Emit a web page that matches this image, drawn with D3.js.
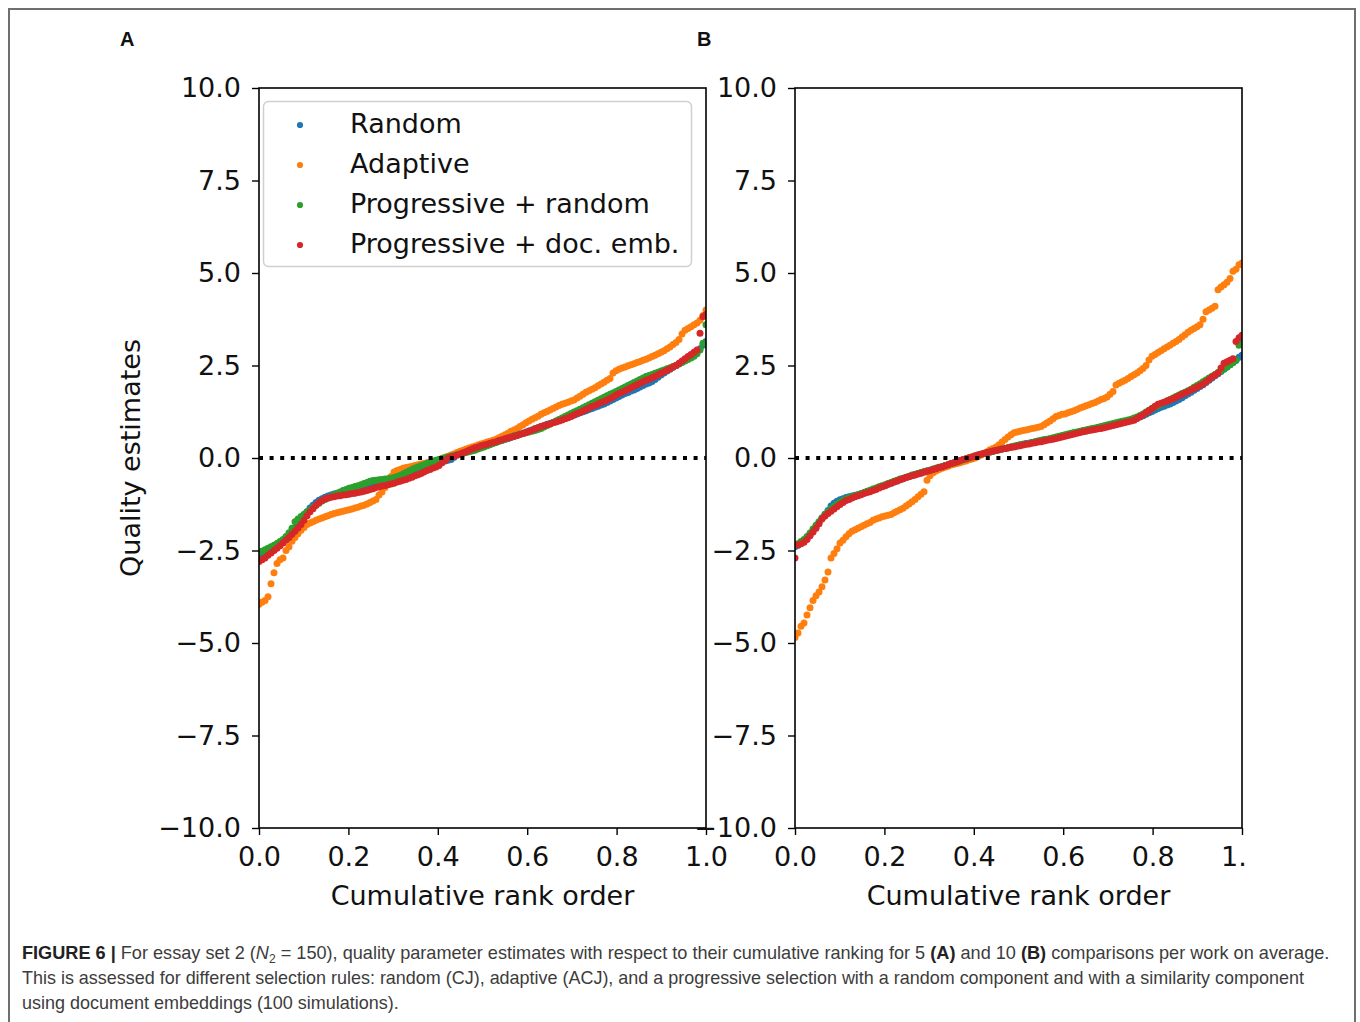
<!DOCTYPE html>
<html>
<head>
<meta charset="utf-8">
<script src="https://cdn.jsdelivr.net/npm/d3@7"></script>
<style>
  body { margin: 0; background: #fff; }
  svg { display: block; }
</style>
</head>
<body>
<svg id="fig" width="1360" height="1022"></svg>
<script>
// Quality estimates (150 essays) ordered by cumulative rank, per selection rule.
// Panel A: 5 comparisons per work on average.
const randomA = [
  -2.65, -2.62, -2.57, -2.52, -2.47, -2.42, -2.36, -2.30, -2.24, -2.17,
  -2.10, -2.00, -1.90, -1.78, -1.65, -1.55, -1.45, -1.35, -1.28, -1.20,
  -1.14, -1.10, -1.06, -1.03, -1.00, -0.97, -0.95, -0.93, -0.91, -0.90,
  -0.88, -0.86, -0.84, -0.82, -0.80, -0.77, -0.75, -0.72, -0.70, -0.68,
  -0.67, -0.65, -0.63, -0.61, -0.58, -0.55, -0.52, -0.49, -0.46, -0.43,
  -0.40, -0.37, -0.34, -0.30, -0.26, -0.22, -0.19, -0.17, -0.15, -0.13,
  -0.12, -0.10, -0.08, -0.06, -0.04, 0.02, 0.08, 0.12, 0.16, 0.19,
  0.21, 0.23, 0.26, 0.28, 0.31, 0.33, 0.36, 0.38, 0.41, 0.43,
  0.46, 0.48, 0.51, 0.53, 0.56, 0.58, 0.61, 0.64, 0.67, 0.70,
  0.73, 0.76, 0.79, 0.82, 0.85, 0.88, 0.91, 0.93, 0.96, 0.99,
  1.02, 1.05, 1.07, 1.10, 1.13, 1.16, 1.19, 1.22, 1.25, 1.28,
  1.31, 1.34, 1.37, 1.40, 1.43, 1.46, 1.50, 1.54, 1.58, 1.62,
  1.66, 1.70, 1.74, 1.77, 1.81, 1.84, 1.88, 1.92, 1.96, 2.00,
  2.03, 2.07, 2.12, 2.18, 2.24, 2.30, 2.35, 2.40, 2.45, 2.50,
  2.55, 2.60, 2.65, 2.70, 2.76, 2.82, 2.88, 2.95, 3.05, 3.15
];
const adaptiveA = [
  -3.95, -3.90, -3.85, -3.75, -3.40, -3.10, -2.85, -2.75, -2.70, -2.50,
  -2.40, -2.25, -2.15, -2.05, -1.95, -1.88, -1.80, -1.76, -1.72, -1.68,
  -1.65, -1.62, -1.59, -1.56, -1.53, -1.50, -1.48, -1.46, -1.44, -1.42,
  -1.40, -1.38, -1.35, -1.33, -1.30, -1.28, -1.24, -1.20, -1.16, -1.12,
  -1.00, -0.92, -0.80, -0.65, -0.50, -0.38, -0.34, -0.31, -0.28, -0.26,
  -0.24, -0.22, -0.20, -0.18, -0.16, -0.15, -0.13, -0.11, -0.09, -0.07,
  -0.04, -0.01, 0.02, 0.05, 0.08, 0.11, 0.15, 0.18, 0.21, 0.24,
  0.27, 0.30, 0.32, 0.35, 0.38, 0.40, 0.43, 0.45, 0.48, 0.51,
  0.55, 0.59, 0.63, 0.67, 0.72, 0.76, 0.80, 0.85, 0.90, 0.95,
  1.00, 1.05, 1.09, 1.13, 1.18, 1.22, 1.26, 1.30, 1.34, 1.38,
  1.42, 1.45, 1.48, 1.51, 1.54, 1.57, 1.62, 1.67, 1.72, 1.78,
  1.82, 1.86, 1.90, 1.95, 2.00, 2.05, 2.10, 2.15, 2.30, 2.36,
  2.40, 2.43, 2.46, 2.49, 2.52, 2.55, 2.58, 2.61, 2.64, 2.67,
  2.70, 2.74, 2.78, 2.82, 2.86, 2.90, 2.95, 3.00, 3.07, 3.12,
  3.20, 3.35, 3.45, 3.50, 3.55, 3.60, 3.65, 3.72, 3.85, 4.00
];
const progRandomA = [
  -2.55, -2.52, -2.48, -2.44, -2.40, -2.36, -2.31, -2.26, -2.20, -2.12,
  -2.02, -1.90, -1.72, -1.65, -1.58, -1.52, -1.46, -1.40, -1.34, -1.28,
  -1.22, -1.16, -1.12, -1.08, -1.04, -1.00, -0.96, -0.92, -0.88, -0.85,
  -0.82, -0.80, -0.77, -0.75, -0.72, -0.69, -0.66, -0.63, -0.61, -0.60,
  -0.59, -0.58, -0.57, -0.56, -0.55, -0.53, -0.50, -0.47, -0.43, -0.39,
  -0.35, -0.31, -0.27, -0.24, -0.21, -0.18, -0.15, -0.12, -0.09, -0.06,
  -0.04, -0.02, 0.01, 0.03, 0.05, 0.07, 0.09, 0.11, 0.13, 0.15,
  0.17, 0.19, 0.21, 0.24, 0.27, 0.30, 0.33, 0.36, 0.39, 0.42,
  0.45, 0.48, 0.51, 0.54, 0.57, 0.60, 0.62, 0.64, 0.66, 0.68,
  0.70, 0.72, 0.74, 0.77, 0.80, 0.84, 0.88, 0.92, 0.96, 1.00,
  1.04, 1.08, 1.12, 1.16, 1.20, 1.24, 1.28, 1.32, 1.36, 1.40,
  1.44, 1.48, 1.52, 1.56, 1.60, 1.64, 1.68, 1.72, 1.76, 1.80,
  1.84, 1.88, 1.92, 1.96, 2.00, 2.04, 2.08, 2.12, 2.16, 2.20,
  2.23, 2.26, 2.29, 2.32, 2.35, 2.38, 2.41, 2.44, 2.47, 2.50,
  2.54, 2.58, 2.62, 2.66, 2.70, 2.75, 2.82, 2.92, 3.10, 3.60
];
const progDocA = [
  -2.80, -2.75, -2.70, -2.63, -2.57, -2.50, -2.44, -2.37, -2.30, -2.22,
  -2.15, -2.06, -1.98, -1.89, -1.80, -1.68, -1.56, -1.45, -1.37, -1.28,
  -1.20, -1.15, -1.10, -1.08, -1.06, -1.05, -1.03, -1.02, -1.00, -0.99,
  -0.98, -0.96, -0.95, -0.93, -0.92, -0.90, -0.88, -0.85, -0.83, -0.80,
  -0.78, -0.76, -0.74, -0.72, -0.70, -0.68, -0.65, -0.63, -0.60, -0.58,
  -0.55, -0.52, -0.48, -0.45, -0.42, -0.38, -0.34, -0.31, -0.27, -0.24,
  -0.20, -0.13, -0.07, 0.00, 0.03, 0.05, 0.08, 0.10, 0.14, 0.17,
  0.21, 0.24, 0.28, 0.30, 0.33, 0.35, 0.37, 0.40, 0.42, 0.44,
  0.47, 0.49, 0.52, 0.54, 0.56, 0.59, 0.61, 0.64, 0.66, 0.69,
  0.72, 0.75, 0.79, 0.82, 0.85, 0.87, 0.90, 0.92, 0.95, 0.97,
  1.00, 1.03, 1.06, 1.09, 1.12, 1.16, 1.20, 1.23, 1.27, 1.31,
  1.35, 1.39, 1.42, 1.46, 1.50, 1.53, 1.57, 1.61, 1.65, 1.70,
  1.74, 1.78, 1.82, 1.86, 1.90, 1.94, 1.98, 2.02, 2.06, 2.10,
  2.13, 2.17, 2.21, 2.25, 2.29, 2.33, 2.37, 2.41, 2.46, 2.50,
  2.56, 2.62, 2.68, 2.74, 2.80, 2.86, 2.92, 3.37, 3.82, 3.88
];

// Panel B: 10 comparisons per work on average.
const randomB = [
  -2.40, -2.36, -2.30, -2.25, -2.18, -2.08, -1.98, -1.86, -1.74, -1.62,
  -1.52, -1.42, -1.30, -1.22, -1.17, -1.13, -1.10, -1.07, -1.05, -1.03,
  -1.01, -0.99, -0.97, -0.94, -0.92, -0.89, -0.86, -0.83, -0.80, -0.77,
  -0.74, -0.71, -0.68, -0.65, -0.62, -0.59, -0.56, -0.53, -0.50, -0.47,
  -0.45, -0.42, -0.40, -0.38, -0.35, -0.33, -0.31, -0.28, -0.26, -0.24,
  -0.21, -0.19, -0.16, -0.14, -0.11, -0.08, -0.06, -0.03, 0.00, 0.02,
  0.05, 0.07, 0.10, 0.12, 0.14, 0.16, 0.18, 0.20, 0.22, 0.24,
  0.26, 0.28, 0.30, 0.32, 0.34, 0.36, 0.37, 0.39, 0.40, 0.42,
  0.43, 0.45, 0.46, 0.48, 0.49, 0.51, 0.53, 0.55, 0.57, 0.59,
  0.61, 0.63, 0.65, 0.67, 0.69, 0.71, 0.73, 0.75, 0.77, 0.78,
  0.80, 0.81, 0.83, 0.85, 0.87, 0.89, 0.91, 0.93, 0.95, 0.97,
  0.99, 1.01, 1.03, 1.05, 1.08, 1.11, 1.14, 1.18, 1.22, 1.26,
  1.30, 1.34, 1.37, 1.40, 1.43, 1.46, 1.50, 1.54, 1.58, 1.63,
  1.68, 1.73, 1.78, 1.83, 1.88, 1.93, 1.98, 2.04, 2.10, 2.16,
  2.22, 2.28, 2.34, 2.40, 2.46, 2.52, 2.58, 2.64, 2.72, 2.78
];
const adaptiveB = [
  -4.85, -4.73, -4.55, -4.46, -4.24, -4.05, -3.85, -3.72, -3.62, -3.48,
  -3.30, -3.08, -2.70, -2.58, -2.45, -2.30, -2.22, -2.13, -2.05, -1.98,
  -1.94, -1.90, -1.86, -1.82, -1.78, -1.74, -1.68, -1.65, -1.62, -1.59,
  -1.57, -1.55, -1.53, -1.48, -1.44, -1.40, -1.36, -1.30, -1.24, -1.18,
  -1.12, -1.05, -0.98, -0.91, -0.60, -0.48, -0.40, -0.35, -0.31, -0.28,
  -0.25, -0.22, -0.19, -0.17, -0.15, -0.13, -0.10, -0.08, -0.05, -0.03,
  0.00, 0.04, 0.08, 0.12, 0.17, 0.22, 0.26, 0.30, 0.36, 0.43,
  0.50, 0.57, 0.63, 0.68, 0.70, 0.72, 0.74, 0.76, 0.78, 0.80,
  0.81, 0.83, 0.85, 0.90, 0.95, 1.00, 1.06, 1.12, 1.15, 1.18,
  1.19, 1.22, 1.25, 1.28, 1.31, 1.35, 1.38, 1.41, 1.44, 1.47,
  1.50, 1.54, 1.58, 1.61, 1.65, 1.72, 1.80, 1.97, 2.02, 2.06,
  2.10, 2.15, 2.20, 2.25, 2.30, 2.36, 2.42, 2.50, 2.65, 2.75,
  2.80, 2.85, 2.90, 2.95, 3.00, 3.05, 3.10, 3.15, 3.20, 3.27,
  3.33, 3.40, 3.45, 3.50, 3.55, 3.60, 3.75, 3.95, 4.00, 4.05,
  4.10, 4.55, 4.62, 4.68, 4.75, 4.85, 5.05, 5.10, 5.22, 5.27
];
const progRandomB = [
  -2.35, -2.32, -2.26, -2.20, -2.12, -2.03, -1.92, -1.82, -1.72, -1.62,
  -1.53, -1.45, -1.38, -1.31, -1.25, -1.20, -1.15, -1.11, -1.08, -1.05,
  -1.02, -0.99, -0.96, -0.93, -0.90, -0.87, -0.84, -0.81, -0.78, -0.75,
  -0.72, -0.69, -0.66, -0.63, -0.60, -0.57, -0.55, -0.52, -0.49, -0.46,
  -0.44, -0.42, -0.39, -0.37, -0.35, -0.33, -0.30, -0.28, -0.25, -0.23,
  -0.20, -0.18, -0.15, -0.13, -0.10, -0.08, -0.05, -0.03, 0.00, 0.03,
  0.05, 0.08, 0.10, 0.12, 0.14, 0.16, 0.18, 0.20, 0.22, 0.24,
  0.26, 0.28, 0.30, 0.32, 0.33, 0.35, 0.37, 0.38, 0.40, 0.42,
  0.44, 0.46, 0.48, 0.50, 0.51, 0.53, 0.55, 0.57, 0.59, 0.61,
  0.63, 0.65, 0.67, 0.69, 0.70, 0.72, 0.74, 0.76, 0.78, 0.80,
  0.81, 0.83, 0.85, 0.87, 0.89, 0.91, 0.93, 0.95, 0.97, 0.99,
  1.01, 1.03, 1.05, 1.08, 1.11, 1.15, 1.19, 1.24, 1.29, 1.34,
  1.38, 1.42, 1.46, 1.50, 1.54, 1.58, 1.62, 1.66, 1.70, 1.74,
  1.78, 1.82, 1.86, 1.91, 1.96, 2.01, 2.06, 2.11, 2.16, 2.21,
  2.26, 2.31, 2.36, 2.41, 2.46, 2.52, 2.58, 2.64, 3.05, 3.20
];
const progDocB = [
  -2.70, -2.35, -2.32, -2.28, -2.20, -2.10, -2.00, -1.90, -1.78, -1.65,
  -1.57, -1.50, -1.44, -1.38, -1.32, -1.26, -1.20, -1.15, -1.12, -1.08,
  -1.05, -1.02, -0.99, -0.96, -0.93, -0.91, -0.88, -0.85, -0.81, -0.78,
  -0.75, -0.71, -0.68, -0.65, -0.62, -0.59, -0.56, -0.53, -0.51, -0.48,
  -0.46, -0.43, -0.41, -0.38, -0.36, -0.34, -0.31, -0.29, -0.26, -0.24,
  -0.21, -0.18, -0.15, -0.13, -0.10, -0.07, -0.04, -0.02, 0.01, 0.03,
  0.06, 0.08, 0.10, 0.13, 0.15, 0.17, 0.19, 0.21, 0.22, 0.24,
  0.26, 0.27, 0.29, 0.30, 0.32, 0.33, 0.35, 0.37, 0.38, 0.40,
  0.41, 0.43, 0.44, 0.46, 0.48, 0.49, 0.51, 0.53, 0.55, 0.57,
  0.59, 0.61, 0.63, 0.65, 0.67, 0.69, 0.71, 0.72, 0.74, 0.76,
  0.77, 0.79, 0.80, 0.82, 0.84, 0.86, 0.88, 0.90, 0.92, 0.94,
  0.96, 0.98, 1.00, 1.02, 1.07, 1.12, 1.16, 1.22, 1.28, 1.34,
  1.40, 1.45, 1.48, 1.51, 1.54, 1.57, 1.60, 1.64, 1.68, 1.72,
  1.76, 1.80, 1.84, 1.88, 1.92, 1.96, 2.00, 2.06, 2.12, 2.19,
  2.24, 2.30, 2.43, 2.56, 2.60, 2.64, 2.68, 3.15, 3.25, 3.32
];

const seriesNames = ["Random", "Adaptive", "Progressive + random", "Progressive + doc. emb."];
const seriesColors = ["#1f77b4", "#ff7f0e", "#2ca02c", "#d62728"];
const yTicks = [-10, -7.5, -5, -2.5, 0, 2.5, 5, 7.5, 10];
const xTicks = [0, 0.2, 0.4, 0.6, 0.8, 1.0];
const panelLetters = ["A", "B"];

const panels = [
  { left: 259, right: 706, data: [randomA, adaptiveA, progRandomA, progDocA], legend: true },
  { left: 795, right: 1242, data: [randomB, adaptiveB, progRandomB, progDocB], legend: false }
];

const TOP = 88, BOTTOM = 828;
const AXIS_FONT = "'DejaVu Sans', sans-serif";
const svg = d3.select("#fig");

// outer figure frame
svg.append("path")
  .attr("d", "M9,1022 V9 H1355 V1022")
  .attr("fill", "none").attr("stroke", "#6f6f6f").attr("stroke-width", 2);

const defs = svg.append("defs");
defs.append("clipPath").attr("id", "clipRightEdge")
  .append("rect").attr("x", 0).attr("y", 0).attr("width", 1247).attr("height", 1022);

const fmt = d3.format(".1f");

panels.forEach((p, pi) => {
  const root = svg.append("g");
  if (pi === 1) root.attr("clip-path", "url(#clipRightEdge)");

  const x = d3.scaleLinear().domain([0, 1]).range([p.left, p.right]);
  const y = d3.scaleLinear().domain([-10, 10]).range([BOTTOM, TOP]);

  const clipId = "plotArea" + pi;
  defs.append("clipPath").attr("id", clipId)
    .append("rect").attr("x", p.left).attr("y", TOP)
    .attr("width", p.right - p.left).attr("height", BOTTOM - TOP);

  // scatter series, one after another so later rules sit on top
  const marks = root.append("g").attr("clip-path", `url(#${clipId})`);
  p.data.forEach((vals, si) => {
    const n = vals.length;
    marks.append("g").selectAll("circle")
      .data(vals)
      .join("circle")
      .attr("cx", (d, i) => x(i / (n - 1)))
      .attr("cy", d => y(d))
      .attr("r", 3.5)
      .attr("fill", seriesColors[si]);
  });

  // dotted reference at zero
  root.append("line")
    .attr("x1", x(0)).attr("x2", x(1))
    .attr("y1", y(0)).attr("y2", y(0))
    .attr("stroke", "#000").attr("stroke-width", 4)
    .attr("stroke-dasharray", "4,6.6");

  // axes
  const xAxis = d3.axisBottom(x).tickValues(xTicks).tickFormat(fmt).tickSize(7).tickPadding(12);
  const yAxis = d3.axisLeft(y).tickValues(yTicks).tickFormat(fmt).tickSize(7).tickPadding(11);

  const gx = root.append("g").attr("transform", `translate(0,${BOTTOM})`).call(xAxis);
  const gy = root.append("g").attr("transform", `translate(${p.left},0)`).call(yAxis);
  [gx, gy].forEach(g => {
    g.select(".domain").remove();
    g.selectAll(".tick line").attr("stroke", "#000").attr("stroke-width", 1.4);
    g.selectAll(".tick text")
      .attr("fill", "#111")
      .style("font-family", AXIS_FONT)
      .style("font-size", "27px");
  });
  gx.selectAll(".tick text").attr("dy", "0.71em");

  // spines
  root.append("rect")
    .attr("x", p.left).attr("y", TOP)
    .attr("width", p.right - p.left).attr("height", BOTTOM - TOP)
    .attr("fill", "none").attr("stroke", "#000").attr("stroke-width", 1.6);

  // x label
  root.append("text")
    .attr("x", (p.left + p.right) / 2).attr("y", 905)
    .attr("text-anchor", "middle")
    .style("font-family", AXIS_FONT).style("font-size", "27px")
    .attr("fill", "#111")
    .text("Cumulative rank order");

  // panel letter
  svg.append("text")
    .attr("x", pi === 0 ? 120 : 697).attr("y", 46)
    .style("font-family", "'Liberation Sans', Arial, sans-serif")
    .style("font-weight", "bold").style("font-size", "20px")
    .attr("fill", "#111")
    .text(panelLetters[pi]);

  if (p.legend) {
    const lg = root.append("g");
    lg.append("rect")
      .attr("x", 263.5).attr("y", 101.5).attr("width", 428).attr("height", 165)
      .attr("rx", 5).attr("ry", 5)
      .attr("fill", "#fff").attr("fill-opacity", 0.85)
      .attr("stroke", "#d0d0d0").attr("stroke-width", 1.5);
    seriesNames.forEach((name, si) => {
      const cy = 123 + si * 40;
      lg.append("circle").attr("cx", 300).attr("cy", cy + 2).attr("r", 3.1).attr("fill", seriesColors[si]);
      lg.append("text")
        .attr("x", 350).attr("y", cy + 9.5)
        .style("font-family", AXIS_FONT).style("font-size", "27px")
        .attr("fill", "#111")
        .text(name);
    });
  }
});

// y label (shared, left of panel A)
svg.append("text")
  .attr("transform", "translate(140,458) rotate(-90)")
  .attr("text-anchor", "middle")
  .style("font-family", AXIS_FONT).style("font-size", "27px")
  .attr("fill", "#111")
  .text("Quality estimates");

// caption
const capFont = "'Liberation Sans', Arial, sans-serif";
const capLines = [
  { y: 959, right: 1330, parts: [
    { t: "FIGURE 6 |", b: true },
    { t: " For essay set 2 (" },
    { t: "N", i: true },
    { t: "2", sub: true },
    { t: " = 150), quality parameter estimates with respect to their cumulative ranking for 5 ", up: true },
    { t: "(A)", b: true },
    { t: " and 10 " },
    { t: "(B)", b: true },
    { t: " comparisons per work on average." }
  ]},
  { y: 984, right: 1305, parts: [
    { t: "This is assessed for different selection rules: random (CJ), adaptive (ACJ), and a progressive selection with a random component and with a similarity component" }
  ]},
  { y: 1009, right: 399, parts: [
    { t: "using document embeddings (100 simulations)." }
  ]}
];
capLines.forEach(line => {
  const t = svg.append("text")
    .attr("x", 0).attr("y", 0)
    .style("font-family", capFont).style("font-size", "18px")
    .attr("fill", "#3c3c3c");
  line.parts.forEach(part => {
    const ts = t.append("tspan").text(part.t);
    if (part.b) ts.style("font-weight", "bold").attr("fill", "#222");
    if (part.i) ts.style("font-style", "italic");
    if (part.sub) ts.style("font-size", "12px").attr("dy", 4);
    if (part.up) ts.attr("dy", -4);
  });
  const w = t.node().getComputedTextLength();
  const target = line.right - 22;
  t.attr("transform", `translate(22,${line.y}) scale(${target / w},1)`);
});
</script>
</body>
</html>
